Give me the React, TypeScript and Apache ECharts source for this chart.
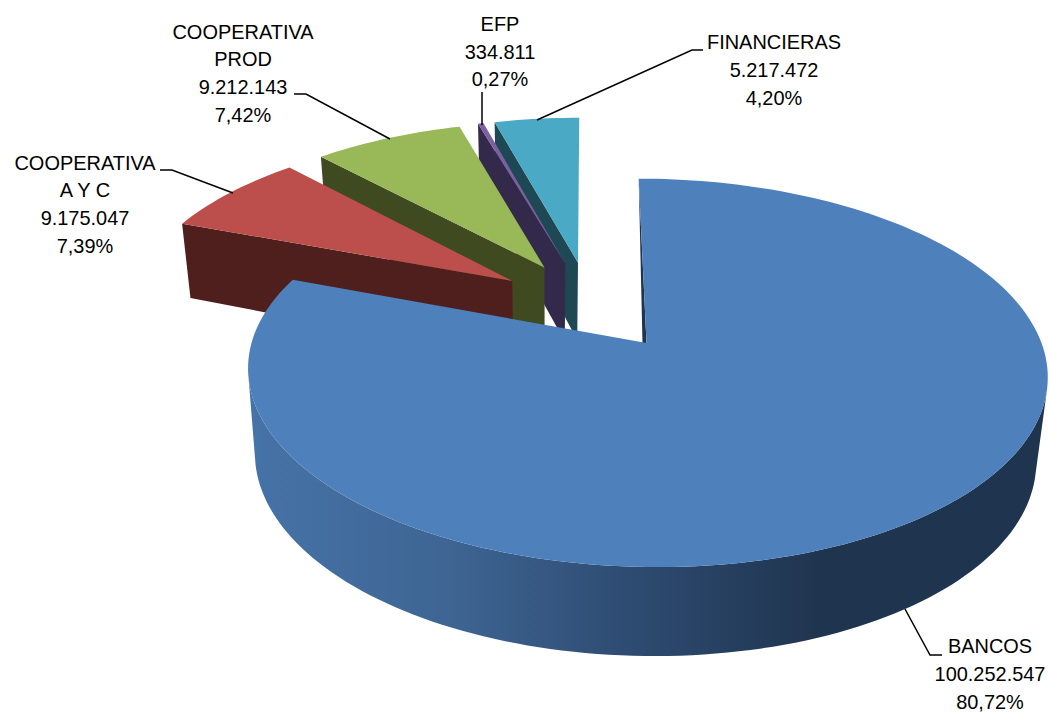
import React, { useEffect, useRef } from "react";
import * as echarts from "echarts";

// Data, in the pie's clockwise order starting at 12 o'clock
const categories = ["BANCOS", "COOPERATIVA\nA Y C", "COOPERATIVA\nPROD", "EFP", "FINANCIERAS"];
const values = [100252547, 9175047, 9212143, 334811, 5217472];

// Styling / layout, by category
const topColors = ["#4E80BC", "#BC4F4C", "#99B958", "#7D60A0", "#4AA9C4"];
const wallColors = ["#1F344E", "#4F1F1E", "#404A20", "#33294A", "#1F4855"];
const labelCenters = [[990, 673.5], [85, 203.5], [243, 72.5], [500, 51], [774, 69.5]];
const leaders = [
  [[942, 655], [930, 655], [905, 609]],
  [[160, 170], [172, 170], [233, 193]],
  [[294, 94], [306, 94], [390, 139]],
  [[482, 92], [482, 125]],
  [[703, 50], [692, 50], [537, 120]],
];
const drawOrder = [4, 3, 2, 1, 0];

// Projection of the tilted pie
const cx = 646.5, cy = 343, Rx = 395, Ry = 189.6, k = 0.1538, skew = -9, explode = 0.25;
const vanishX = 545, shrink = 0.023;

const total = values.reduce((a, b) => a + b, 0);
const RAD = Math.PI / 180;
const starts: number[] = [];
values.reduce((acc, v, i) => {
  starts[i] = acc;
  return acc + (v / total) * 360;
}, 0);
const ends = values.map((v, i) => starts[i] + (v / total) * 360);
const dir = (t: number) => [Math.sin(t * RAD), Math.cos(t * RAD)];
const mids = values.map((_, i) => (starts[i] + ends[i]) / 2);

function top(x: number, d: number) {
  const w = 1 + k * d;
  return [cx + (Rx * x + skew * d) / w, cy - (Ry * d) / w];
}
function bottom(x: number, d: number) {
  const p = top(x, d);
  const h = d < 0 ? 84 - 5 * d : 84 - 14 * d;
  return [vanishX + (p[0] - vanishX) * (1 - shrink), p[1] + h];
}
const fmtNumber = (v: number) => String(v).replace(/\B(?=(\d{3})+(?!\d))/g, ".");
const fmtPercent = (v: number) => ((v / total) * 100).toFixed(2).replace(".", ",") + "%";

function renderItem(_params: any, api: any) {
  const i = api.value(1) as number;
  const a = dir(mids[i]);
  const b = dir(mids[0]);
  const ox = explode * (a[0] - b[0]);
  const od = explode * (a[1] - b[1]);
  const arcTop: number[][] = [];
  const arcBottom: number[][] = [];
  const steps = Math.max(4, Math.ceil((ends[i] - starts[i]) / 1.5));
  for (let s = 0; s <= steps; s++) {
    const t = dir(starts[i] + ((ends[i] - starts[i]) * s) / steps);
    arcTop.push(top(t[0] + ox, t[1] + od));
    arcBottom.push(bottom(t[0] + ox, t[1] + od));
  }
  const apexTop = top(ox, od);
  const apexBottom = bottom(ox, od);
  const children: any[] = [];
  if (i === 0) {
    // only the part of the outer wall that faces the viewer
    const frontTop: number[][] = [];
    const frontBottom: number[][] = [];
    for (let s = 0; s < steps; s++) {
      const dx = arcTop[s + 1][0] - arcTop[s][0];
      const dy = arcTop[s + 1][1] - arcTop[s][1];
      const hx = arcBottom[s][0] - arcTop[s][0];
      const hy = arcBottom[s][1] - arcTop[s][1];
      if (dx * hy - dy * hx < 0) {
        frontTop.push(arcTop[s]);
        frontBottom.push(arcBottom[s]);
      }
    }
    children.push({
      type: "polygon",
      shape: { points: [...frontTop, ...frontBottom.slice().reverse()] },
      style: {
        fill: new echarts.graphic.LinearGradient(248, 0, 1048, 0, [
          { offset: 0, color: "#4673A8" },
          { offset: 0.25, color: "#3E6593" },
          { offset: 0.49, color: "#2D4A70" },
          { offset: 0.72, color: "#1F344E" },
          { offset: 1, color: "#1F344E" },
        ], true),
      },
    });
    children.push({
      type: "polygon",
      shape: { points: [arcTop[0], apexTop, [apexTop[0] - 4, apexTop[1]]] },
      style: { fill: wallColors[i] },
    });
  } else {
    children.push({
      type: "polygon",
      shape: { points: [arcTop[0], apexTop, apexBottom, arcBottom[0]] },
      style: { fill: wallColors[i] },
    });
  }
  children.push({
    type: "polygon",
    shape: { points: [apexTop, ...arcTop] },
    style: { fill: topColors[i] },
  });
  children.push({
    type: "polyline",
    shape: { points: leaders[i] },
    style: { stroke: "#000000", lineWidth: 1.5, fill: "none" },
  });
  children.push({
    type: "text",
    x: labelCenters[i][0],
    y: labelCenters[i][1],
    scaleX: 0.95,
    style: {
      x: 0,
      y: 0,
      text: `${categories[i]}\n${fmtNumber(values[i])}\n${fmtPercent(values[i])}`,
      fill: "#000000",
      font: '21px "Liberation Sans", Arial, sans-serif',
      align: "center",
      verticalAlign: "middle",
      lineHeight: 27.7,
    },
  });
  return { type: "group", children };
}

export default function App() {
  const ref = useRef<HTMLDivElement>(null);
  useEffect(() => {
    document.body.style.margin = "0";
    const chart = echarts.init(ref.current!, null, { renderer: "svg" });
    chart.setOption({
      animation: false,
      backgroundColor: "#ffffff",
      series: [
        {
          type: "custom",
          coordinateSystem: "none",
          silent: true,
          clip: false,
          renderItem,
          data: drawOrder.map((i) => [values[i], i]),
        },
      ],
    });
    return () => chart.dispose();
  }, []);
  return <div ref={ref} style={{ width: 1049, height: 712 }} />;
}
